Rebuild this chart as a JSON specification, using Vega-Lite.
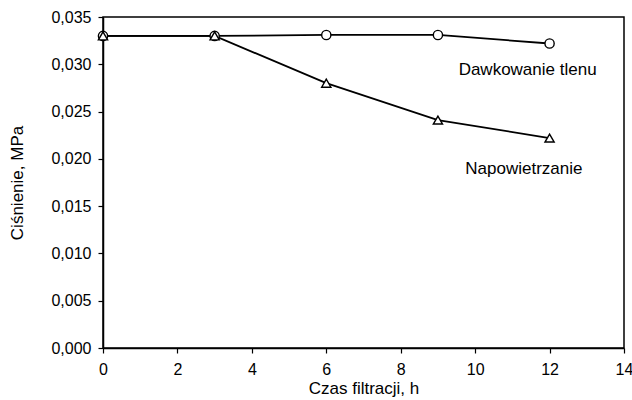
{
  "$schema": "https://vega.github.io/schema/vega-lite/v6.json",
  "width": 521,
  "height": 331,
  "autosize": {"type": "none"},
  "padding": {"left": 103, "top": 17, "right": 8, "bottom": 52},
  "background": "white",
  "config": {
    "font": "Liberation Sans",
    "view": {"stroke": "black", "strokeWidth": 1.5},
    "axis": {
      "grid": false,
      "labelFlush": false,
      "labelOverlap": false,
      "domainColor": "black",
      "domainWidth": 1.5,
      "tickColor": "black",
      "tickSize": 5,
      "tickWidth": 1.2,
      "labelColor": "black",
      "labelFontSize": 16,
      "titleColor": "black",
      "titleFontSize": 17,
      "titleFontWeight": "normal"
    }
  },
  "datasets": {
    "series": [
      {"czas": 0, "cisnienie": 0.033, "seria": "Dawkowanie tlenu"},
      {"czas": 3, "cisnienie": 0.033, "seria": "Dawkowanie tlenu"},
      {"czas": 6, "cisnienie": 0.0331, "seria": "Dawkowanie tlenu"},
      {"czas": 9, "cisnienie": 0.0331, "seria": "Dawkowanie tlenu"},
      {"czas": 12, "cisnienie": 0.0322, "seria": "Dawkowanie tlenu"},
      {"czas": 0, "cisnienie": 0.033, "seria": "Napowietrzanie"},
      {"czas": 3, "cisnienie": 0.033, "seria": "Napowietrzanie"},
      {"czas": 6, "cisnienie": 0.028, "seria": "Napowietrzanie"},
      {"czas": 9, "cisnienie": 0.0241, "seria": "Napowietrzanie"},
      {"czas": 12, "cisnienie": 0.0222, "seria": "Napowietrzanie"}
    ],
    "labels": [
      {"czas": 11.41, "cisnienie": 0.0294, "text": "Dawkowanie tlenu"},
      {"czas": 11.31, "cisnienie": 0.0189, "text": "Napowietrzanie"}
    ]
  },
  "layer": [
    {
      "data": {"name": "series"},
      "mark": {"type": "line", "color": "black", "strokeWidth": 1.8},
      "encoding": {
        "x": {
          "field": "czas", "type": "quantitative",
          "scale": {"domain": [0, 14], "nice": false},
          "axis": {"title": "Czas filtracji, h", "values": [0, 2, 4, 6, 8, 10, 12, 14], "labelPadding": 8, "titlePadding": 3}
        },
        "y": {
          "field": "cisnienie", "type": "quantitative",
          "scale": {"domain": [0, 0.035], "nice": false},
          "axis": {
            "title": "Ciśnienie, MPa",
            "values": [0, 0.005, 0.01, 0.015, 0.02, 0.025, 0.03, 0.035],
            "labelExpr": "replace(format(datum.value, '.3f'), '.', ',')",
            "labelPadding": 7,
            "titlePadding": 24
          }
        },
        "detail": {"field": "seria"}
      }
    },
    {
      "data": {"name": "series"},
      "mark": {"type": "point", "filled": true, "fill": "white", "stroke": "black", "strokeWidth": 1.4, "size": 85, "opacity": 1},
      "encoding": {
        "x": {"field": "czas", "type": "quantitative"},
        "y": {"field": "cisnienie", "type": "quantitative"},
        "shape": {
          "field": "seria", "type": "nominal",
          "scale": {"domain": ["Dawkowanie tlenu", "Napowietrzanie"], "range": ["circle", "triangle-up"]},
          "legend": null
        }
      }
    },
    {
      "data": {"name": "labels"},
      "mark": {"type": "text", "fontSize": 17, "color": "black", "align": "center", "baseline": "middle"},
      "encoding": {
        "x": {"field": "czas", "type": "quantitative"},
        "y": {"field": "cisnienie", "type": "quantitative"},
        "text": {"field": "text"}
      }
    }
  ]
}
